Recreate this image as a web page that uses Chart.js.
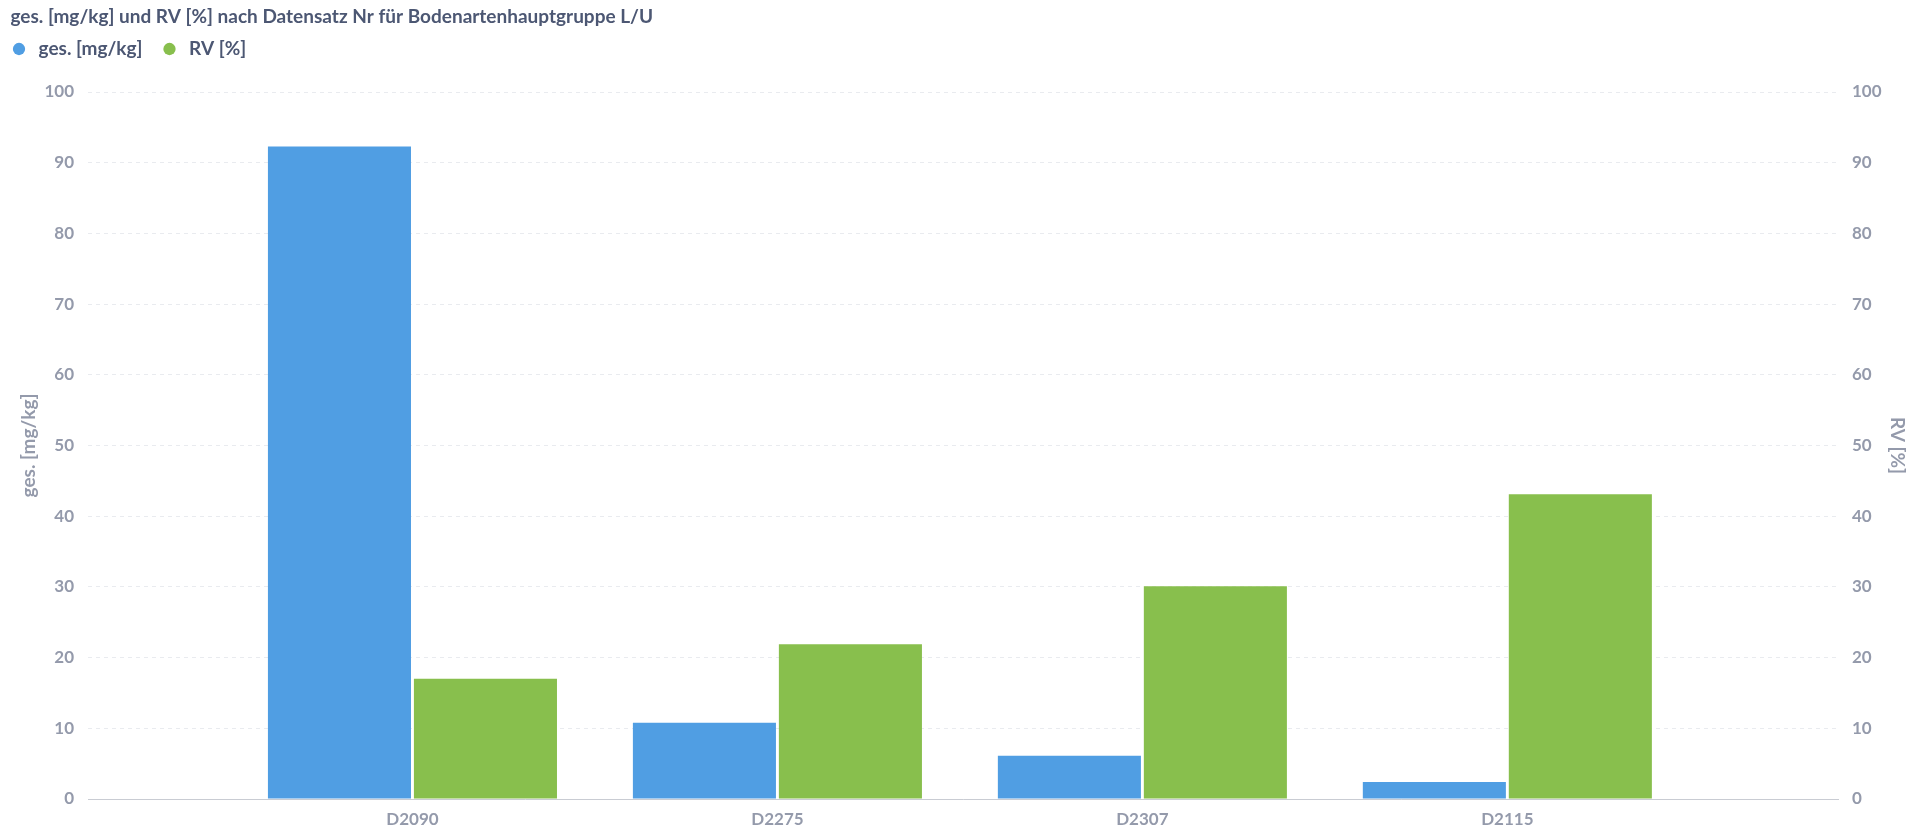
<!DOCTYPE html>
<html>
<head>
<meta charset="utf-8">
<script src="https://cdn.jsdelivr.net/npm/chart.js@4/dist/chart.umd.min.js"></script>
<style>
  html, body { margin: 0; padding: 0; background: #fff; }
  #wrap { width: 1928px; height: 828px; }
</style>
</head>
<body>
<div id="wrap"><canvas id="chart"></canvas></div>
<script>
var categories = ['D2090', 'D2275', 'D2307', 'D2115'];
var gesValues = [92.3, 10.8, 6.1, 2.4];
var rvValues = [17.0, 21.9, 30.1, 43.1];

var tickColor = '#949aab';
var tickFont = { family: 'Lato', size: 17, weight: 'bold' };
var axisTitleFont = { family: 'Lato', size: 19, weight: 'bold' };

// give the legend row a fixed height so the plot starts lower
var legendHeight = {
  id: 'legendHeight',
  beforeLayout: function(chart) {
    var legend = chart.legend;
    if (!legend || legend._fixedFit) return;
    var fit = legend.fit;
    legend.fit = function() {
      fit.call(this);
      this.height = 55.5;
    };
    legend._fixedFit = true;
  }
};

var ctx = document.getElementById('chart').getContext('2d');
var chart = new Chart(ctx, {
  type: 'bar',
  data: {
    labels: categories,
    datasets: [
      {
        label: 'ges. [mg/kg]',
        data: gesValues,
        yAxisID: 'y',
        backgroundColor: '#509ee3',
        borderWidth: 0
      },
      {
        label: 'RV [%]',
        data: rvValues,
        yAxisID: 'y1',
        backgroundColor: '#88bf4d',
        borderWidth: 0
      }
    ]
  },
  plugins: [legendHeight],
  options: {
    responsive: true,
    maintainAspectRatio: false,
    animation: false,
    categoryPercentage: 0.8,
    barPercentage: 0.98,
    layout: { padding: { left: 10.5, right: 10, top: 0, bottom: 0 } },
    plugins: {
      title: {
        display: true,
        text: 'ges. [mg/kg] und RV [%] nach Datensatz Nr für Bodenartenhauptgruppe L/U',
        align: 'start',
        color: '#4c5773',
        font: { family: 'Lato', size: 19, weight: 'bold', lineHeight: 1 },
        padding: { top: 7.5, bottom: 10 }
      },
      legend: {
        align: 'start',
        labels: {
          usePointStyle: true,
          pointStyle: 'circle',
          boxWidth: 11,
          boxHeight: 8.7,
          color: '#4c5773',
          font: { family: 'Lato', size: 19, weight: 'bold' },
          padding: 3,
          // extra room between marker, text and the next entry
          generateLabels: function(chart) {
            var items = Chart.defaults.plugins.legend.labels.generateLabels(chart);
            items.forEach(function(item, i) {
              item.text = ' ' + item.text + (i < items.length - 1 ? '    ' : '');
            });
            return items;
          }
        }
      },
      tooltip: { enabled: false }
    },
    scales: {
      x: {
        offset: true,
        grid: { display: false, drawTicks: false },
        border: { display: true, color: '#c9ccd3', width: 1 },
        ticks: { color: tickColor, font: tickFont, padding: 10 },
        afterFit: function(scale) { scale.height = 29; },
        // widen the axis so the groups sit in the middle with extra room at both ends
        afterBuildTicks: function(scale) {
          scale._startValue = -0.889;
          scale._valueRange = 4.795;
        }
      },
      y: {
        position: 'left',
        min: 0,
        max: 100,
        afterFit: function(scale) { scale.width = 77.5; },
        ticks: { stepSize: 10, color: tickColor, font: tickFont, padding: 14 },
        grid: { color: '#e9ebef', drawTicks: false },
        border: { display: false, dash: [4, 4] },
        title: {
          display: true,
          text: 'ges. [mg/kg]',
          color: tickColor,
          font: axisTitleFont,
          padding: { top: 6.6, bottom: 0 }
        }
      },
      y1: {
        position: 'right',
        min: 0,
        max: 100,
        afterFit: function(scale) { scale.width = 80; },
        ticks: { stepSize: 10, color: tickColor, font: tickFont, padding: 14 },
        grid: { drawOnChartArea: false, drawTicks: false },
        border: { display: false },
        title: {
          display: true,
          text: 'RV [%]',
          color: tickColor,
          font: axisTitleFont,
          padding: { top: 9.1, bottom: 0 }
        }
      }
    }
  }
});
</script>
</body>
</html>
